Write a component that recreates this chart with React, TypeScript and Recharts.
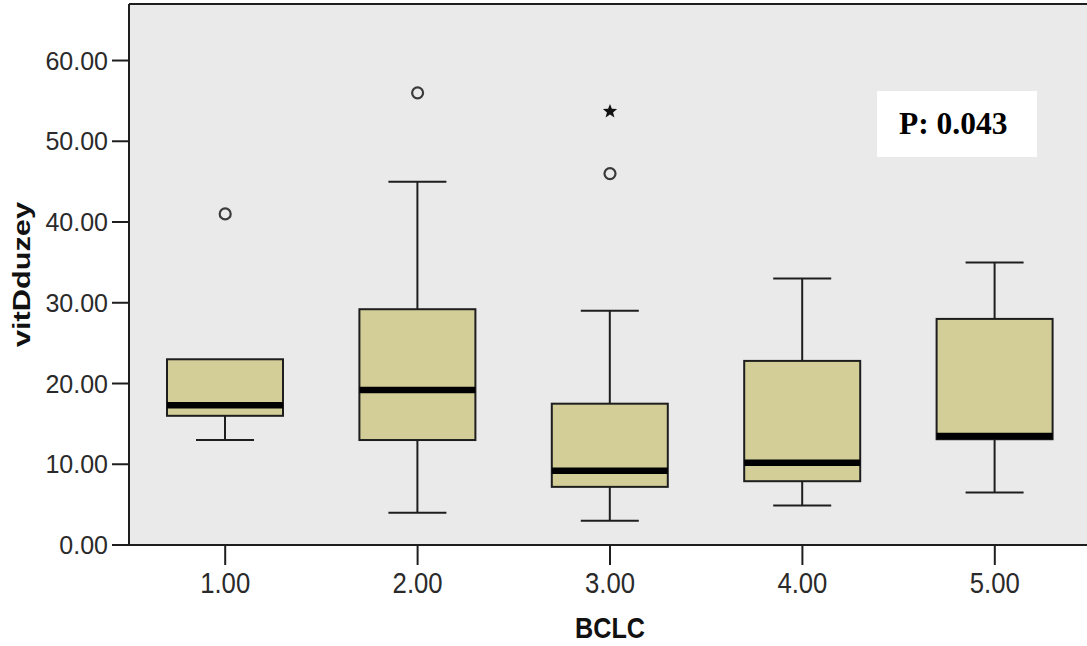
import { Bar, CartesianGrid, ComposedChart, Line, ReferenceLine, XAxis, YAxis } from "recharts"

// BCLC stage groups and five-number summaries of vitDduzey
const groups = ["1.00", "2.00", "3.00", "4.00", "5.00"]
const lowWhisker = [13, 4, 3, 4.9, 6.5]
const lowerQuartile = [16, 13, 7.2, 7.9, 13.1]
const medians = [17.3, 19.2, 9.2, 10.2, 13.5]
const upperQuartile = [23, 29.2, 17.5, 22.8, 28]
const highWhisker = [23, 45, 29, 33, 35]
// mild outliers (circles) and extremes (stars)
const outliers = [41, 56, 46, null, null]
const extremes = [null, null, 53.7, null, null]
const yTicks = [0, 10, 20, 30, 40, 50, 60]
const pValue = "P: 0.043"

const data = groups.map((group, i) => ({
  group,
  span: [lowWhisker[i], highWhisker[i]],
  low: lowWhisker[i],
  q1: lowerQuartile[i],
  median: medians[i],
  q3: upperQuartile[i],
  high: highWhisker[i],
  outlier: outliers[i],
  extreme: extremes[i],
}))

const INK = "#1e1e1e"
const BOX_FILL = "#d3ce98"
const PLOT_BG = "#eaeaea"
const SANS = "'Liberation Sans', Arial, sans-serif"

// draws a whole box plot inside the bar spanning low..high whisker
const BoxShape = (props: any) => {
  const { x, y, width, height, payload } = props
  const { low, q1, median, q3, high } = payload
  const top = Math.min(y, y + height)
  const h = Math.abs(height)
  const unit = h / (high - low)
  const py = (v: number) => top + (high - v) * unit
  const cx = x + width / 2
  const cap = width / 4
  return (
    <g>
      <line x1={cx} x2={cx} y1={py(high)} y2={py(q3)} stroke={INK} strokeWidth={2} />
      <line x1={cx} x2={cx} y1={py(q1)} y2={py(low)} stroke={INK} strokeWidth={2} />
      {high > q3 && <line x1={cx - cap} x2={cx + cap} y1={py(high)} y2={py(high)} stroke={INK} strokeWidth={2} />}
      {low < q1 && <line x1={cx - cap} x2={cx + cap} y1={py(low)} y2={py(low)} stroke={INK} strokeWidth={2} />}
      <rect x={x} y={py(q3)} width={width} height={py(q1) - py(q3)} fill={BOX_FILL} stroke={INK} strokeWidth={2} />
      <line x1={x} x2={x + width} y1={py(median)} y2={py(median)} stroke="#000" strokeWidth={6.5} />
    </g>
  )
}

const CircleDot = (props: any) => {
  const { cx, cy, value, index } = props
  if (value == null || cy == null || isNaN(cy)) return <g key={`c-${index}`} />
  return <circle key={`c-${index}`} cx={cx} cy={cy} r={5.5} fill="none" stroke="#3a3a3a" strokeWidth={2.2} />
}

const StarDot = (props: any) => {
  const { cx, cy, value, index } = props
  if (value == null || cy == null || isNaN(cy)) return <g key={`s-${index}`} />
  const pts: string[] = []
  for (let k = 0; k < 10; k++) {
    const r = k % 2 === 0 ? 7.5 : 3.2
    const a = -Math.PI / 2 + (k * Math.PI) / 5
    pts.push(`${cx + r * Math.cos(a)},${cy + r * Math.sin(a)}`)
  }
  return <polygon key={`s-${index}`} points={pts.join(" ")} fill="#111" />
}

const YTick = (props: any) => {
  const { x, y, payload } = props
  return (
    <text x={x} y={y} dy="0.36em" textAnchor="end" fontSize={25} fontFamily={SANS} fill="#2a2a2a">
      {Number(payload.value).toFixed(2)}
    </text>
  )
}

const XTick = (props: any) => {
  const { x, y, payload } = props
  return (
    <text x={x} y={y} dy="0.72em" textAnchor="middle" fontSize={29} fontFamily={SANS} fill="#2a2a2a"
      textLength={50} lengthAdjust="spacingAndGlyphs">
      {payload.value}
    </text>
  )
}

const XTitle = (props: any) => {
  const { viewBox } = props
  const cx = viewBox.x + viewBox.width / 2
  return (
    <text x={cx} y={viewBox.y + 93} textAnchor="middle" fontSize={30} fontWeight="bold" fontFamily={SANS}
      fill="#111" textLength={70} lengthAdjust="spacingAndGlyphs">
      BCLC
    </text>
  )
}

const YTitle = (props: any) => {
  const { viewBox } = props
  const cy = viewBox.y + viewBox.height / 2
  const cx = 30
  return (
    <text x={cx} y={cy} transform={`rotate(-90 ${cx} ${cy})`} textAnchor="middle" fontSize={23.5}
      fontWeight="bold" fontFamily={SANS} fill="#111" textLength={145} lengthAdjust="spacingAndGlyphs">
      vitDduzey
    </text>
  )
}

export default function App() {
  return (
    <div style={{ position: "absolute", left: 0, top: 0, width: 1087, height: 646, overflow: "hidden", background: "#fff" }}>
      <ComposedChart width={1091} height={646} data={data} margin={{ top: 4, right: 0, bottom: 0, left: 0 }}>
        <CartesianGrid fill={PLOT_BG} horizontal={false} vertical={false} />
        <ReferenceLine y={67} stroke={INK} strokeWidth={2} />
        <XAxis
          dataKey="group"
          height={101}
          tickSize={20}
          tickMargin={7}
          tick={<XTick />}
          axisLine={{ stroke: INK, strokeWidth: 2 }}
          tickLine={{ stroke: INK, strokeWidth: 2 }}
          label={<XTitle />}
        />
        <YAxis
          type="number"
          domain={[0, 67]}
          ticks={yTicks}
          width={129}
          tickSize={17}
          tickMargin={4}
          tick={<YTick />}
          axisLine={{ stroke: INK, strokeWidth: 2 }}
          tickLine={{ stroke: INK, strokeWidth: 2 }}
          label={<YTitle />}
        />
        <Bar dataKey="span" barSize={116} shape={<BoxShape />} isAnimationActive={false} />
        <Line dataKey="outlier" stroke="none" dot={CircleDot} activeDot={false} isAnimationActive={false} />
        <Line dataKey="extreme" stroke="none" dot={StarDot} activeDot={false} isAnimationActive={false} />
      </ComposedChart>
      <div
        style={{
          position: "absolute",
          left: 877,
          top: 91,
          width: 160,
          height: 66,
          background: "#fff",
          fontFamily: "'Liberation Serif', 'Times New Roman', serif",
          fontWeight: "bold",
          fontSize: 31.5,
          lineHeight: "66px",
          paddingLeft: 22,
          boxSizing: "border-box",
          color: "#000",
          whiteSpace: "nowrap",
        }}
      >
        {pValue}
      </div>
    </div>
  )
}
